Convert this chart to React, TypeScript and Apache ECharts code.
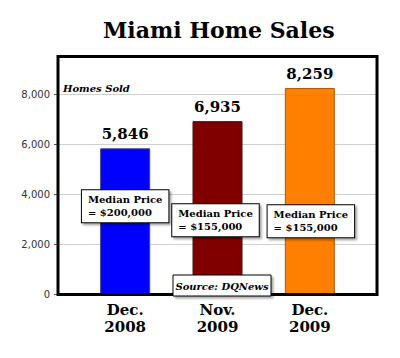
import React, { useEffect, useRef } from 'react';
import * as echarts from 'echarts';

const categories = ['Dec.\n2008', 'Nov.\n2009', 'Dec.\n2009'];
const homesSold = [5846, 6935, 8259];
const barColors = ['#0000FF', '#800000', '#FF8000'];
const barBorders = ['#3a3a8a', '#4a1010', '#b35a00'];
const medianPrices = ['$200,000', '$155,000', '$155,000'];
const medianLabelLevel = [3530, 2970, 2930];
const yTicks = [0, 2000, 4000, 6000, 8000];
const yMax = 9500;

const fmt = (v: number) => v.toLocaleString('en-US');
const SERIF = '"DejaVu Serif", Georgia, serif';

export default function App() {
  const ref = useRef<HTMLDivElement>(null);
  useEffect(() => {
    document.body.style.margin = '0';
    const chart = echarts.init(ref.current!, null, { renderer: 'svg' });
    const gridTop = 57;
    const gridBottom = 63.5;
    chart.setOption({
      animation: false,
      backgroundColor: '#fff',
      title: {
        text: 'Miami Home Sales',
        left: 103,
        top: 19,
        padding: 0,
        textStyle: { fontFamily: SERIF, fontWeight: 'bold', fontSize: 22, color: '#000' },
      },
      grid: [
        { left: 58, right: 22, top: gridTop, bottom: gridBottom },
        { left: 79, right: 44, top: gridTop, bottom: gridBottom },
      ],
      xAxis: [
        { type: 'value', gridIndex: 0, min: 0, max: 1, show: false },
        {
          type: 'category',
          gridIndex: 1,
          data: categories,
          axisLine: { show: false },
          axisTick: { show: false },
          axisLabel: {
            margin: 7,
            fontFamily: SERIF,
            fontWeight: 'bold',
            fontSize: 15,
            lineHeight: 17,
            color: '#000',
          },
        },
      ],
      yAxis: [
        {
          type: 'value',
          gridIndex: 0,
          min: 0,
          max: yMax,
          axisLine: { show: false },
          axisTick: { show: true, length: 4, lineStyle: { color: '#555' }, customValues: yTicks },
          axisLabel: {
            customValues: yTicks,
            margin: 8,
            fontFamily: '"DejaVu Sans", sans-serif',
            fontSize: 10,
            color: '#333',
            formatter: (v: number) => fmt(v),
          },
          splitLine: { show: true, lineStyle: { color: '#cfcfcf', width: 1 } },
        },
        { type: 'value', gridIndex: 1, min: 0, max: yMax, show: false },
      ],
      series: [
        {
          type: 'bar',
          xAxisIndex: 1,
          yAxisIndex: 1,
          barWidth: 50,
          data: homesSold.map((v, i) => ({
            value: v,
            itemStyle: { color: barColors[i], borderColor: barBorders[i], borderWidth: 1 },
          })),
          label: {
            show: true,
            position: 'top',
            distance: 7,
            fontFamily: SERIF,
            fontWeight: 'bold',
            fontSize: 15,
            color: '#000',
            formatter: (p: any) => fmt(p.value),
          },
          markPoint: {
            symbol: 'circle',
            symbolSize: 0,
            z: 5,
            data: medianPrices.map((m, i) => ({
              coord: [categories[i], medianLabelLevel[i]],
              value: m,
              label: {
                show: true,
                position: 'inside',
                offset: [i === 1 ? -2 : i === 2 ? 1 : 0, 0],
                formatter: `{t|Median Price}\n{t|= ${m}}`,
                rich: {
                  t: {
                    fontFamily: SERIF,
                    fontWeight: 'bold',
                    fontSize: 10,
                    lineHeight: 13,
                    color: '#000',
                    align: 'left',
                  },
                },
                backgroundColor: '#fff',
                borderColor: '#000',
                borderWidth: 1,
                padding: [3, 6, 3, 6],
                shadowColor: 'rgba(0,0,0,0.35)',
                shadowOffsetX: 2,
                shadowOffsetY: 2,
                shadowBlur: 2,
              },
            })),
          },
        },
      ],
      graphic: [
        {
          type: 'rect',
          z: 10,
          shape: { x: 58, y: 56.5, width: 319, height: 238 },
          style: { fill: 'transparent', stroke: '#000', lineWidth: 3 },
        },
        {
          type: 'text',
          z: 10,
          x: 63,
          y: 88,
          style: {
            text: 'Homes Sold',
            font: `italic bold 10px ${SERIF}`,
            fill: '#000',
            textVerticalAlign: 'middle',
          },
        },
        {
          type: 'rect',
          z: 20,
          shape: { x: 173, y: 275, width: 98, height: 21 },
          style: {
            fill: '#fff',
            stroke: '#000',
            lineWidth: 1,
            shadowColor: 'rgba(0,0,0,0.35)',
            shadowOffsetX: 2,
            shadowOffsetY: 2,
            shadowBlur: 2,
          },
        },
        {
          type: 'text',
          z: 21,
          x: 222,
          y: 286,
          style: {
            text: 'Source: DQNews',
            font: `italic bold 10px ${SERIF}`,
            fill: '#000',
            textAlign: 'center',
            textVerticalAlign: 'middle',
          },
        },
      ],
    });
    return () => chart.dispose();
  }, []);
  return <div ref={ref} style={{ width: 400, height: 358 }} />;
}
